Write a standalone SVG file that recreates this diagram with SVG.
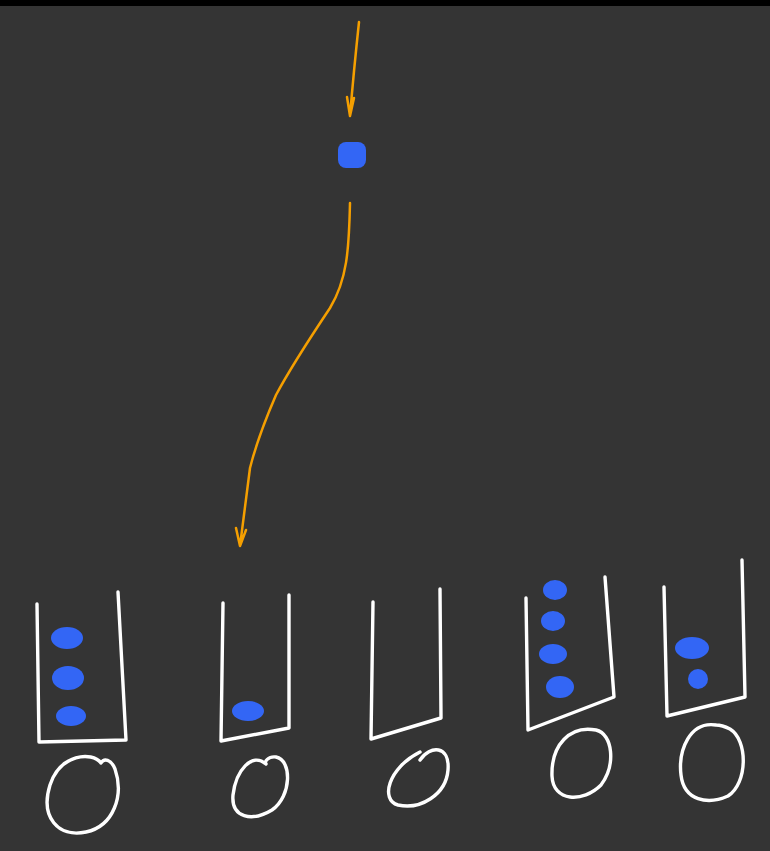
<svg xmlns="http://www.w3.org/2000/svg" width="770" height="851" viewBox="0 0 770 851">
<style>
.w{fill:none;stroke:#ffffff;stroke-width:3.4;stroke-linecap:round;stroke-linejoin:round}
.o{fill:none;stroke:#f59f00;stroke-width:2.5;stroke-linecap:round;stroke-linejoin:round}
.b{fill:#3366f5}
</style>
<rect width="770" height="851" fill="#343434"/>
<rect width="770" height="6" fill="#000"/>
<g id="connectors">
<path class="o" d="M359,22 C356,50 353,80 350,116 M347,97 L350,116 L354,98"/>
<path class="o" d="M350,203 C349,250 347,280 330,308 C310,338 292,365 276,395 C263,425 254,452 250,468 L240,546 M236,528 L240,546 L246,530"/>
</g>
<g id="item"><rect class="b" x="338" y="142" width="28" height="26" rx="8"/></g>
<g id="bucket1">
<path class="w" d="M37,604 L39,742 L126,740 L118,592"/>
<ellipse class="b" cx="67" cy="638" rx="16" ry="11"/>
<ellipse class="b" cx="68" cy="678" rx="16" ry="12"/>
<ellipse class="b" cx="71" cy="716" rx="15" ry="10"/>
<path class="w" d="M101,763 C92,751 60,754 50,785 C40,817 58,838 86,832 C114,826 124,795 115,769 C111,759 104,758 101,763"/>
</g>
<g id="bucket2">
<path class="w" d="M223,603 L221,741 L289,728 L289,595"/>
<ellipse class="b" cx="248" cy="711" rx="16" ry="10"/>
<path class="w" d="M266,764 C252,752 236,770 233,795 C231,818 252,822 272,810 C292,796 292,760 276,757 C268,756 264,762 266,764"/>
</g>
<g id="bucket3">
<path class="w" d="M373,602 L371,739 L441,718 L440,589"/>
<path class="w" d="M420,760 C430,745 450,745 448,770 C446,795 420,810 398,805 C380,800 388,768 420,752"/>
</g>
<g id="bucket4">
<path class="w" d="M526,598 L528,730 L614,697 L605,577"/>
<ellipse class="b" cx="555" cy="590" rx="12" ry="10"/>
<ellipse class="b" cx="553" cy="621" rx="12" ry="10"/>
<ellipse class="b" cx="553" cy="654" rx="14" ry="10"/>
<ellipse class="b" cx="560" cy="687" rx="14" ry="11"/>
<path class="w" d="M596,730 C570,725 551,745 552,776 C553,802 583,803 601,785 C616,765 613,734 596,730"/>
</g>
<g id="bucket5">
<path class="w" d="M664,587 L667,716 L745,697 L742,560"/>
<ellipse class="b" cx="692" cy="648" rx="17" ry="11"/>
<ellipse class="b" cx="698" cy="679" rx="10" ry="10"/>
<path class="w" d="M716,725 C690,721 678,750 681,775 C684,801 708,805 728,796 C748,783 748,740 730,729 C724,726 720,725 716,725"/>
</g>
</svg>
